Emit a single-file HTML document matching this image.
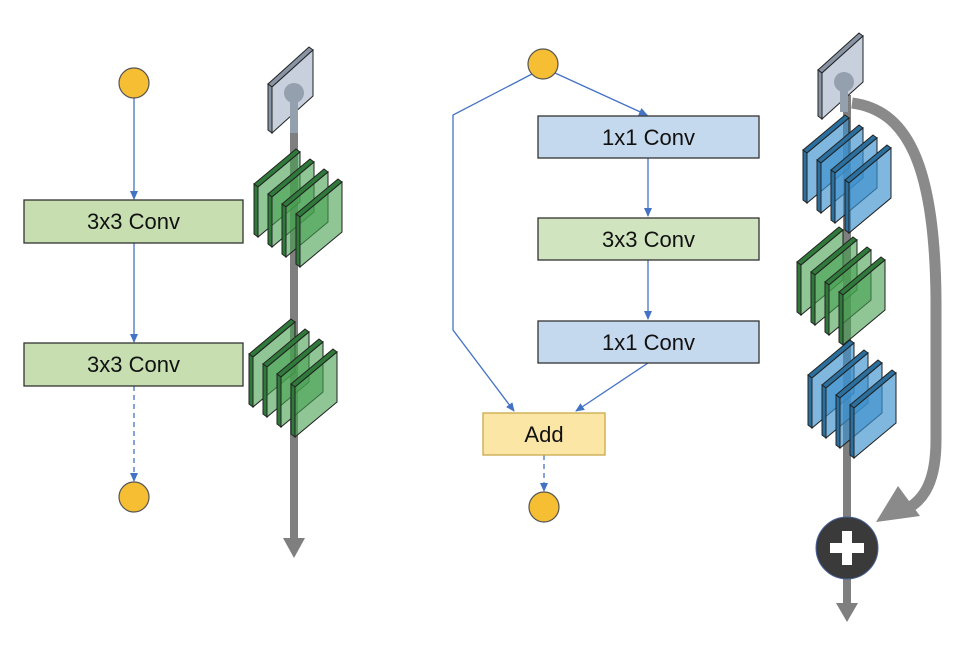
<!DOCTYPE html>
<html><head><meta charset="utf-8"><style>
html,body{margin:0;padding:0;background:#fff;}
svg{display:block;}
text{font-family:"Liberation Sans","Noto Sans CJK KR",sans-serif;font-size:22px;fill:#111;}
</style></head><body>
<svg width="964" height="646" viewBox="0 0 964 646" xmlns="http://www.w3.org/2000/svg">
<defs>
<marker id="a" markerWidth="10" markerHeight="10" refX="8" refY="5" orient="auto" markerUnits="userSpaceOnUse">
<path d="M0,1 L9,5 L0,9 z" fill="#4472C4"/></marker>
<g id="pg"><polygon points="-4,-3 38,-38 42,-35 0,0" fill="#2f7a3a" stroke="#222" stroke-width="1"/>
<polygon points="-4,-3 0,0 0,50 -4,47" fill="#2f7a3a" stroke="#222" stroke-width="1"/>
<polygon points="0,0 42,-35 42,15 0,50" fill="rgba(70,160,80,0.6)" stroke="#222" stroke-width="1"/></g>
<g id="pb"><polygon points="-4,-3 38,-38 42,-35 0,0" fill="#2a6f9e" stroke="#222" stroke-width="1"/>
<polygon points="-4,-3 0,0 0,50 -4,47" fill="#2a6f9e" stroke="#222" stroke-width="1"/>
<polygon points="0,0 42,-35 42,15 0,50" fill="rgba(60,145,205,0.65)" stroke="#222" stroke-width="1"/></g>
<g id="sl"><polygon points="-4,-3 37,-40 41,-37 0,0" fill="#8894a4" stroke="#222" stroke-width="1"/>
<polygon points="-4,-3 0,0 0,46 -4,43" fill="#8894a4" stroke="#222" stroke-width="1"/>
<polygon points="0,0 41,-37 41,9 0,46" fill="#c7d0dc" stroke="#222" stroke-width="1"/></g>
</defs>

<!-- LEFT diagram -->
<line x1="134" y1="98" x2="134" y2="199" stroke="#4472C4" stroke-width="1.3" marker-end="url(#a)"/>
<line x1="134" y1="243" x2="134" y2="342" stroke="#4472C4" stroke-width="1.3" marker-end="url(#a)"/>
<line x1="134" y1="386" x2="134" y2="481" stroke="#4472C4" stroke-width="1.3" stroke-dasharray="5,4" marker-end="url(#a)"/>
<circle cx="134" cy="83" r="15" fill="#F6BE32" stroke="#555" stroke-width="1.2"/>
<circle cx="134" cy="497" r="15" fill="#F6BE32" stroke="#555" stroke-width="1.2"/>
<rect x="24" y="200" width="219" height="43" fill="#C6DEB0" stroke="#333" stroke-width="1.3"/>
<text x="133.5" y="229" text-anchor="middle">3x3 Conv</text>
<rect x="24" y="343" width="219" height="43" fill="#C6DEB0" stroke="#333" stroke-width="1.3"/>
<text x="133.5" y="372" text-anchor="middle">3x3 Conv</text>

<!-- left gray pipe -->
<rect x="290" y="95" width="8" height="445" fill="#7f7f7f"/>
<polygon points="283,538 305,538 294,558" fill="#7f7f7f"/>
<use href="#sl" x="272" y="87"/>
<circle cx="294" cy="93" r="10" fill="#95a0ae"/>
<rect x="290" y="93" width="8" height="40" fill="#95a0ae"/>
<use href="#pg" x="258" y="187"/><use href="#pg" x="272" y="197"/><use href="#pg" x="286" y="207"/><use href="#pg" x="300" y="217"/>
<use href="#pg" x="253" y="357"/><use href="#pg" x="267" y="367"/><use href="#pg" x="281" y="377"/><use href="#pg" x="295" y="387"/>

<!-- MIDDLE diagram -->
<polyline points="532,74 453,115 453,330 514,411" fill="none" stroke="#4472C4" stroke-width="1.3" marker-end="url(#a)"/>
<line x1="555" y1="73" x2="647" y2="115" stroke="#4472C4" stroke-width="1.3" marker-end="url(#a)"/>
<line x1="648" y1="158" x2="648" y2="216" stroke="#4472C4" stroke-width="1.3" marker-end="url(#a)"/>
<line x1="648" y1="260" x2="648" y2="319" stroke="#4472C4" stroke-width="1.3" marker-end="url(#a)"/>
<line x1="648" y1="363" x2="576" y2="411" stroke="#4472C4" stroke-width="1.3" marker-end="url(#a)"/>
<line x1="544" y1="455" x2="544" y2="491" stroke="#4472C4" stroke-width="1.3" stroke-dasharray="5,4" marker-end="url(#a)"/>
<circle cx="543" cy="64" r="15" fill="#F6BE32" stroke="#555" stroke-width="1.2"/>
<circle cx="544" cy="507" r="15" fill="#F6BE32" stroke="#555" stroke-width="1.2"/>
<rect x="538" y="116" width="221" height="42" fill="#C5D9EE" stroke="#333" stroke-width="1.3"/>
<text x="648.5" y="145" text-anchor="middle">1x1 Conv</text>
<rect x="538" y="218" width="221" height="42" fill="#D0E4C0" stroke="#333" stroke-width="1.3"/>
<text x="648.5" y="247" text-anchor="middle">3x3 Conv</text>
<rect x="538" y="321" width="221" height="42" fill="#C5D9EE" stroke="#333" stroke-width="1.3"/>
<text x="648.5" y="350" text-anchor="middle">1x1 Conv</text>
<rect x="483" y="413" width="122" height="42" fill="#FCE6A6" stroke="#C9A94A" stroke-width="1.3"/>
<text x="544" y="442" text-anchor="middle">Add</text>

<!-- RIGHT pipe -->
<rect x="843" y="95" width="8" height="510" fill="#7f7f7f"/>
<polygon points="836,603 858,603 847,622" fill="#7f7f7f"/>
<path d="M852,103 C905,110 935,160 936,300 L936,440 C936,480 925,500 905,510" fill="none" stroke="#8a8a8a" stroke-width="11"/>
<polygon points="876,522 898,486 920,516" fill="#8a8a8a"/>
<use href="#sl" x="822" y="73"/>
<circle cx="844" cy="82" r="10" fill="#95a0ae"/>
<rect x="840" y="82" width="8" height="30" fill="#95a0ae"/>
<use href="#pb" x="807" y="153"/><use href="#pb" x="821" y="163"/><use href="#pb" x="835" y="173"/><use href="#pb" x="849" y="183"/>
<use href="#pg" x="801" y="265"/><use href="#pg" x="815" y="275"/><use href="#pg" x="829" y="285"/><use href="#pg" x="843" y="295"/>
<use href="#pb" x="812" y="378"/><use href="#pb" x="826" y="388"/><use href="#pb" x="840" y="398"/><use href="#pb" x="854" y="408"/>
<circle cx="847" cy="548" r="31" fill="#3a3a3a" stroke="#4a64a0" stroke-width="1"/>
<rect x="830" y="543" width="34" height="10" fill="#fff"/>
<rect x="842" y="531" width="10" height="34" fill="#fff"/>
</svg>
</body></html>
